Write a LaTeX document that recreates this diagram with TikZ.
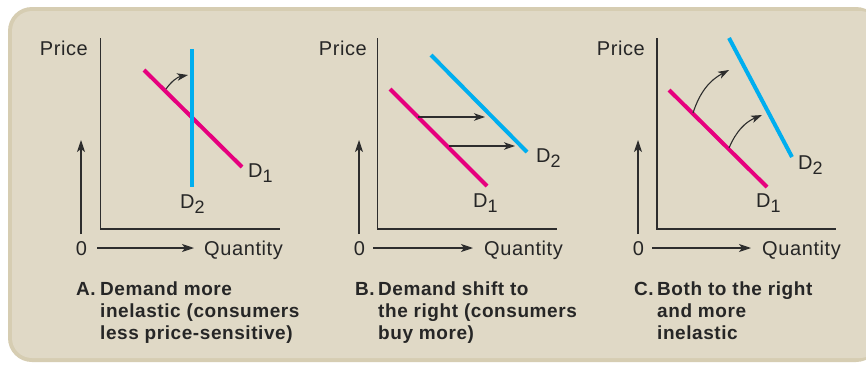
\documentclass[tikz,border=0pt]{standalone}
\usepackage{fontspec}
\setmainfont{Liberation Sans}
\newfontfamily\widefont[LetterSpace=3]{Liberation Sans}
\usetikzlibrary{arrows.meta}
\definecolor{bgborder}{RGB}{214,205,178}
\definecolor{bgfill}{RGB}{224,217,198}
\definecolor{mag}{RGB}{230,0,126}
\definecolor{cyanline}{RGB}{0,174,239}
\definecolor{axiscol}{RGB}{45,45,45}
\tikzset{
  axisline/.style={draw=axiscol,line width=1.3pt},
  dirarrow/.style={draw=axiscol,line width=1.1pt,-{Stealth[length=12pt,width=8pt,inset=3pt]}},
  shiftarrow/.style={draw=axiscol,line width=1.1pt,-{Stealth[length=11pt,width=7.5pt,inset=3pt]}},
  dem1/.style={draw=mag,line width=4pt},
  dem2/.style={draw=cyanline,line width=4pt},
  lbl/.style={inner sep=0pt,text=black!85,font=\widefont\fontsize{20}{22}\selectfont},
  captext/.style={inner sep=0pt,text=black!85,align=left,font=\widefont\fontsize{19}{22}\selectfont\bfseries},
}
\newcommand{\Dsub}[1]{D\raisebox{-5pt}{\fontsize{18}{20}\selectfont #1}}
\begin{document}
\begin{tikzpicture}[x=1pt,y=-1pt]
\useasboundingbox (0,0) rectangle (866,364);
\fill[white] (0,0) rectangle (866,364);
\fill[bgborder,rounded corners=24pt] (8,7) rectangle (880,362);
\fill[bgfill,rounded corners=20pt] (12,11) rectangle (880,358);

% ===== Panel A =====
\coordinate (aO) at (100.5,229);
\coordinate (aY) at (100.5,38);
\coordinate (aX) at (280,229);
\draw[axisline] (aY) -- (aO) -- (aX);
\node[lbl,anchor=base east] (aprice) at (88,55) {Price};
\node[lbl,anchor=base] (azero) at (81.5,255) {0};
\node[lbl,anchor=base west] (aqty) at (204,255) {Quantity};
\coordinate (aup1) at (81,234);
\coordinate (aup2) at (81,140);
\draw[dirarrow] (aup1) -- (aup2);
\coordinate (art1) at (97,248);
\coordinate (art2) at (194,248);
\draw[dirarrow] (art1) -- (art2);
\coordinate (ad1s) at (144,70);
\coordinate (ad1e) at (242,167);
\draw[dem1] (ad1s) -- (ad1e);
\coordinate (ad2s) at (192,49);
\coordinate (ad2e) at (192,187);
\draw[dem2] (ad2s) -- (ad2e);
\coordinate (aca) at (166,89);
\coordinate (acb) at (188,75);
\draw[shiftarrow] (aca) to[bend left=22] (acb);
\node[lbl,anchor=base west] (aD1) at (248,177) {\Dsub{1}};
\node[lbl,anchor=base west] (aD2) at (180,208) {\Dsub{2}};
\node[captext,anchor=base west] (aletter) at (76,295) {A.};
\node[captext,anchor=north west] (atext) at (100,282) {Demand more\\inelastic (consumers\\less price-sensitive)};

% ===== Panel B =====
\coordinate (bO) at (377.5,229);
\coordinate (bY) at (377.5,38);
\coordinate (bX) at (557,229);
\draw[axisline] (bY) -- (bO) -- (bX);
\node[lbl,anchor=base east] (bprice) at (367,55) {Price};
\node[lbl,anchor=base] (bzero) at (359.5,255) {0};
\node[lbl,anchor=base west] (bqty) at (484,255) {Quantity};
\coordinate (bup1) at (359,234);
\coordinate (bup2) at (359,140);
\draw[dirarrow] (bup1) -- (bup2);
\coordinate (brt1) at (373,248);
\coordinate (brt2) at (473,248);
\draw[dirarrow] (brt1) -- (brt2);
\coordinate (bd1s) at (390,89);
\coordinate (bd1e) at (487,186);
\draw[dem1] (bd1s) -- (bd1e);
\coordinate (bd2s) at (431,55);
\coordinate (bd2e) at (527,152);
\draw[dem2] (bd2s) -- (bd2e);
\coordinate (bs1a) at (418,117);
\coordinate (bs1b) at (485,117);
\draw[shiftarrow] (bs1a) -- (bs1b);
\coordinate (bs2a) at (449,146);
\coordinate (bs2b) at (515,146);
\draw[shiftarrow] (bs2a) -- (bs2b);
\node[lbl,anchor=base west] (bD2) at (536,162) {\Dsub{2}};
\node[lbl,anchor=base west] (bD1) at (473,207) {\Dsub{1}};
\node[captext,anchor=base west] (bletter) at (355,295) {B.};
\node[captext,anchor=north west] (btext) at (378,282) {Demand shift to\\the right (consumers\\buy more)};

% ===== Panel C =====
\coordinate (cO) at (657,229);
\coordinate (cY) at (657,38);
\coordinate (cX) at (836,229);
\draw[axisline] (cY) -- (cO) -- (cX);
\node[lbl,anchor=base east] (cprice) at (645,55) {Price};
\node[lbl,anchor=base] (czero) at (638.5,255) {0};
\node[lbl,anchor=base west] (cqty) at (762,255) {Quantity};
\coordinate (cup1) at (638,234);
\coordinate (cup2) at (638,140);
\draw[dirarrow] (cup1) -- (cup2);
\coordinate (crt1) at (652,248);
\coordinate (crt2) at (751,248);
\draw[dirarrow] (crt1) -- (crt2);
\coordinate (cd1s) at (669,90);
\coordinate (cd1e) at (767,187);
\draw[dem1] (cd1s) -- (cd1e);
\coordinate (cd2s) at (729,38);
\coordinate (cd2e) at (792,157);
\draw[dem2] (cd2s) -- (cd2e);
\coordinate (cc1a) at (693,113);
\coordinate (cc1b) at (729,70);
\draw[shiftarrow] (cc1a) to[bend left=22] (cc1b);
\coordinate (cc2a) at (729,148);
\coordinate (cc2b) at (762,115);
\draw[shiftarrow] (cc2a) to[bend left=22] (cc2b);
\node[lbl,anchor=base west] (cD2) at (798,169) {\Dsub{2}};
\node[lbl,anchor=base west] (cD1) at (756,207) {\Dsub{1}};
\node[captext,anchor=base west] (cletter) at (634,295) {C.};
\node[captext,anchor=north west] (ctext) at (657,282) {Both to the right\\and more\\inelastic};
\end{tikzpicture}
\end{document}
